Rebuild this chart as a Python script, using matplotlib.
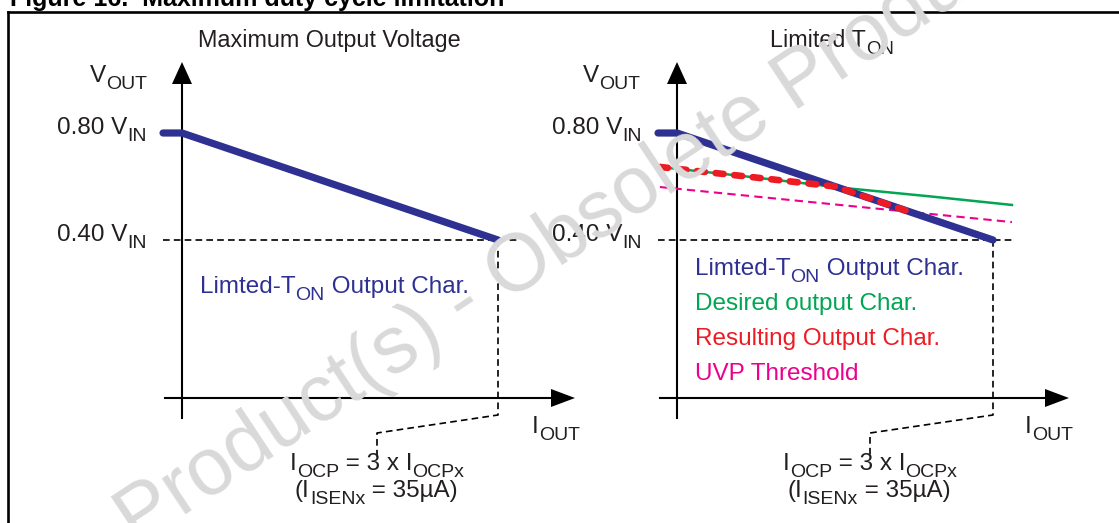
import matplotlib
matplotlib.use('Agg')
import matplotlib.pyplot as plt
from matplotlib.patches import Polygon

plt.rcParams['font.family'] = ['Liberation Sans', 'DejaVu Sans']

W, H = 1119, 523
DPI = 100

# ---------------- data (I_OUT as fraction of I_OCP, V_OUT as fraction of V_IN)
limited_i = [-0.06, 0.0, 1.0]
limited_v = [0.80, 0.80, 0.40]
desired_i = [-0.054, 0.231, 0.516, 0.801, 1.060]
desired_v = [0.673, 0.636, 0.596, 0.563, 0.531]
result_i = [-0.054, 0.231, 0.50, 0.737]
result_v = [0.673, 0.636, 0.60, 0.505]
uvp_i = [-0.054, 1.06]
uvp_v = [0.598, 0.467]
ytick_values = [0.80, 0.40]
ytick_labels = [[('0.80 V', 0), ('IN', 1)], [('0.40 V', 0), ('IN', 1)]]
ocp_i = 1.0
ocp_label1 = [('I', 0), ('OCP', 1), (' = 3 x I', 0), ('OCPx', 1)]
ocp_label2 = [('(I', 0), ('ISENx', 1), (' = 35\u00b5A)', 0)]
legend_labels = [
    [('Limted-T', 0), ('ON', 1), (' Output Char.', 0)],
    [('Desired output Char.', 0)],
    [('Resulting Output Char.', 0)],
    [('UVP Threshold', 0)],
]

BLUE = '#2e3192'
GREEN = '#00a651'
RED = '#ed1c24'
PINK = '#ec008c'
INK = '#231f20'
legend_colors = [BLUE, GREEN, RED, PINK]

# ---------------- layout (pixels)
PX_PER_I = 316.0
Y08 = 133.0
PX_PER_V = 267.5
AX_Y = 398.0          # x-axis line
YAX_TOP = 62.0
YAX_BOT = 418.0
panel_origin = [182.0, 677.0]
xarrow_tip = [575.0, 1069.0]
label_x = [57.0, 552.0]
vout_x = [90.0, 583.0]
iout_x = [532.0, 1025.0]
ocp_text_x = [290.0, 783.0]
ocp_elbow_x = [377.0, 870.0]

FS = 17.5
SUB = 0.8
DROP = 0.29
DESC = 0.212

fig = plt.figure(figsize=(W / DPI, H / DPI), dpi=DPI)
bg = fig.add_axes([0, 0, 1, 1])
bg.set_xlim(0, W)
bg.set_ylim(H, 0)
bg.axis('off')


def rich(ax, x, y, parts, size=FS, color=INK):
    prev = None
    prev_sub = False
    for txt, is_sub in parts:
        s = size * SUB if is_sub else size
        if prev is None:
            t = ax.text(x, y, txt, fontsize=s, color=color, va='baseline', ha='left')
        else:
            prev_s = size * SUB if prev_sub else size
            prev_base = -DROP * size if prev_sub else 0.0
            target = -DROP * size if is_sub else 0.0
            off = target - (prev_base - DESC * prev_s)
            t = ax.annotate(txt, xy=(1, 0), xycoords=prev, xytext=(0, off),
                            textcoords='offset points', fontsize=s, color=color,
                            va='baseline', ha='left')
        prev = t
        prev_sub = is_sub
    return prev


# frame + clipped caption
bg.plot([8, 8], [12, H + 5], color='black', lw=1.9, solid_capstyle='projecting')
bg.plot([8, W + 5], [12, 12], color='black', lw=1.9, solid_capstyle='projecting')
bg.text(10, 6, 'Figure 16.  Maximum duty cycle limitation', fontsize=18,
        fontweight='bold', color='black', va='baseline', ha='left')

# panel titles
bg.text(198, 47, 'Maximum Output Voltage', fontsize=16.8, color=INK, va='baseline')
rich(bg, 770, 47, [('Limited T', 0), ('ON', 1)], size=16.8)

for p in range(2):
    ox = panel_origin[p]
    ax = fig.add_axes([0, 0, 1, 1])
    ax.set_xlim((0 - ox) / PX_PER_I, (W - ox) / PX_PER_I)
    ax.set_ylim(0.80 - (H - Y08) / PX_PER_V, 0.80 + Y08 / PX_PER_V)
    ax.axis('off')
    ax.patch.set_alpha(0)

    def vy(py):
        return 0.80 - (py - Y08) / PX_PER_V

    def ix(px):
        return (px - ox) / PX_PER_I

    # axes with arrows
    ax.plot([0, 0], [vy(YAX_BOT), vy(YAX_TOP + 20)], color='black', lw=1.5)
    ax.add_patch(Polygon([[ix(ox - 10), vy(YAX_TOP + 22)], [ix(ox + 10), vy(YAX_TOP + 22)],
                          [0, vy(YAX_TOP)]], closed=True, color='black', lw=0))
    tip = xarrow_tip[p]
    ax.plot([ix(ox - 17), ix(tip - 22)], [vy(AX_Y), vy(AX_Y)], color='black', lw=1.5)
    ax.add_patch(Polygon([[ix(tip - 24), vy(AX_Y - 9)], [ix(tip - 24), vy(AX_Y + 9)],
                          [ix(tip), vy(AX_Y)]], closed=True, color='black', lw=0))

    # dashed reference lines
    ax.plot([ix(ox - 19), ix(ox + 338)], [ytick_values[1]] * 2, color='black', lw=1.2,
            dashes=(4, 2.5))
    ax.plot([ocp_i, ocp_i, ix(ocp_elbow_x[p]), ix(ocp_elbow_x[p])],
            [ytick_values[1], vy(415), vy(433), vy(458)], color='black', lw=1.2,
            dashes=(4, 2.5))

    # curves
    if p == 1:
        ax.plot(uvp_i, uvp_v, color=PINK, lw=1.5, dashes=(4, 2.5), zorder=3)
        ax.plot(desired_i, desired_v, color=GREEN, lw=1.8, zorder=4)
    ax.plot(limited_i, limited_v, color=BLUE, lw=5.2, solid_capstyle='round', zorder=5)
    if p == 1:
        ax.plot(result_i, result_v, color=RED, lw=4.8, dashes=(1.2, 1.6),
                dash_capstyle='round', zorder=6)

    # labels
    for val, lab in zip(ytick_values, ytick_labels):
        rich(ax, ix(label_x[p]), val - 1.0 / PX_PER_V, lab)
    rich(ax, ix(vout_x[p]), vy(82), [('V', 0), ('OUT', 1)])
    rich(ax, ix(iout_x[p]), vy(433), [('I', 0), ('OUT', 1)])
    rich(ax, ix(ocp_text_x[p]), vy(470), ocp_label1)
    rich(ax, ix(ocp_text_x[p] + 5), vy(497), ocp_label2)

    if p == 0:
        rich(ax, ix(200), vy(293), legend_labels[0], color=BLUE)
    else:
        for k, (lab, col) in enumerate(zip(legend_labels, legend_colors)):
            rich(ax, ix(695), vy(275 + 35 * k), lab, color=col)

# watermark on top
wm = fig.add_axes([0, 0, 1, 1])
wm.set_xlim(0, W)
wm.set_ylim(H, 0)
wm.axis('off')
wm.patch.set_alpha(0)
wm.text(476, 322, 'Obsolete Product(s) - Obsolete Product(s)', fontsize=58,
        color='#d9d9d9', rotation=33.5, rotation_mode='anchor', ha='center',
        va='baseline', zorder=10)

fig.savefig('out.png', dpi=DPI)
